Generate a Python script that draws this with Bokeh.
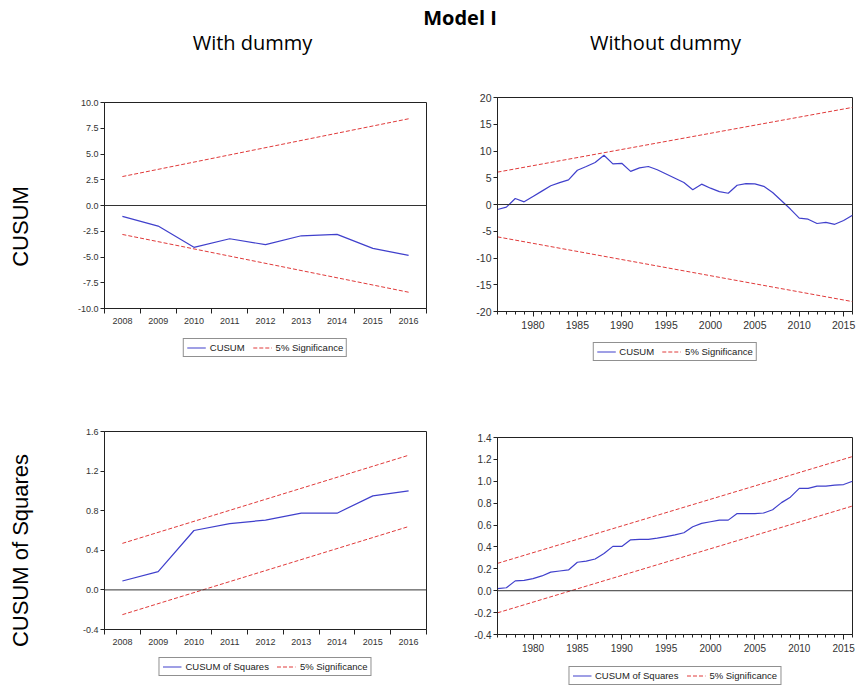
import math
from bokeh.plotting import figure
from bokeh.models import Range1d, FixedTicker, NumeralTickFormatter, Span, Legend, LegendItem
from bokeh.layouts import column, row
from bokeh.core.properties import value
from bokeh.embed import file_html
from bokeh.resources import INLINE

# ---------------- data ----------------
years_d = [2008, 2009, 2010, 2011, 2012, 2013, 2014, 2015, 2016]
cusum_d = [-1.05, -2.0, -4.06, -3.23, -3.8, -2.94, -2.8, -4.16, -4.84]
band_d_x = [2008, 2016]
cusum_d_upper = [2.81, 8.42]
cusum_d_lower = [-2.81, -8.42]
cusumsq_d = [0.09, 0.185, 0.60, 0.67, 0.705, 0.775, 0.775, 0.95, 1.0]
cusumsq_d_upper = [0.47, 1.36]
cusumsq_d_lower = [-0.25, 0.64]

years_n = list(range(1976, 2017))
cusum_n = [-0.93, -0.5, 1.12, 0.5, 1.5, 2.5, 3.5, 4.1, 4.6, 6.4,
           7.1, 7.85, 9.2, 7.6, 7.7, 6.2, 6.85, 7.1, 6.5, 5.7,
           4.9, 4.1, 2.75, 3.8, 3.05, 2.4, 2.1, 3.6, 3.9, 3.85,
           3.4, 2.25, 0.7, -0.85, -2.55, -2.75, -3.55, -3.35, -3.7, -3.0,
           -2.0]
band_n_x = [1976, 2016]
cusum_n_upper = [6.05, 18.15]
cusum_n_lower = [-6.05, -18.15]
cusumsq_n = [0.02, 0.027, 0.09, 0.095, 0.11, 0.135, 0.17, 0.18, 0.19, 0.26,
             0.27, 0.29, 0.34, 0.405, 0.405, 0.465, 0.47, 0.47, 0.48, 0.495,
             0.51, 0.53, 0.585, 0.615, 0.63, 0.645, 0.645, 0.705, 0.705, 0.705,
             0.71, 0.74, 0.805, 0.855, 0.935, 0.935, 0.955, 0.955, 0.965, 0.97,
             1.0]
cusumsq_n_upper = [0.25, 1.226]
cusumsq_n_lower = [-0.202, 0.774]

yt_cusum_d = [-10, -7.5, -5, -2.5, 0, 2.5, 5, 7.5, 10]
yt_cusum_n = [-20, -15, -10, -5, 0, 5, 10, 15, 20]
yt_sq_d = [-0.4, 0.0, 0.4, 0.8, 1.2, 1.6]
yt_sq_n = [-0.4, -0.2, 0.0, 0.2, 0.4, 0.6, 0.8, 1.0, 1.2, 1.4]
xt_n = [1980, 1985, 1990, 1995, 2000, 2005, 2010, 2015]

BLUE = "#4040cc"
RED = "#e03a3a"
AX_FONT = "Liberation Sans"


def panel(w, h, bl, br, bt, bb, xr, yr, yticks, yfmt, xticker, major_out, minor_out,
          fs, xs, ys, bx, up, lo):
    p = figure(width=w, height=h, x_range=Range1d(*xr), y_range=Range1d(*yr), title=None,
               output_backend="svg", toolbar_location=None,
               min_border_left=bl, min_border_right=br, min_border_top=bt, min_border_bottom=bb)
    p.grid.visible = False
    p.outline_line_color = "#222222"
    p.outline_line_width = 1
    ya = p.yaxis[0]
    ya.ticker = FixedTicker(ticks=yticks)
    ya.formatter = NumeralTickFormatter(format=yfmt)
    ya.major_tick_out = 4
    ya.major_tick_in = 0
    ya.minor_tick_out = 0
    ya.major_label_standoff = 2
    ya.axis_line_color = "#222222"
    ya.major_tick_line_color = "#222222"
    ya.major_label_text_font = AX_FONT
    ya.major_label_text_font_size = fs
    ya.major_label_text_color = "#333333"
    xa = p.xaxis[0]
    xa.ticker = xticker
    xa.major_tick_out = major_out
    xa.major_tick_in = 0
    xa.minor_tick_out = minor_out
    xa.minor_tick_in = 0
    xa.major_label_standoff = 4
    xa.axis_line_color = "#222222"
    xa.major_tick_line_color = "#222222"
    xa.minor_tick_line_color = "#222222"
    xa.major_label_text_font = AX_FONT
    xa.major_label_text_font_size = fs
    xa.major_label_text_color = "#333333"

    p.add_layout(Span(location=0, dimension="width", line_color="#333333", line_width=1))
    p.line(xs, ys, line_color=BLUE, line_width=1.2)
    p.line(bx, up, line_color=RED, line_width=1, line_dash="4 2")
    p.line(bx, lo, line_color=RED, line_width=1, line_dash="4 2")
    return p


def legend_fig(w, h, bl, br, label, top_margin):
    f = figure(width=w, height=h, x_range=Range1d(0, 1), y_range=Range1d(0, 1), title=None,
               output_backend="svg", toolbar_location=None, x_axis_type=None, y_axis_type=None,
               min_border_left=bl, min_border_right=br, min_border_top=0, min_border_bottom=0)
    f.grid.visible = False
    f.outline_line_color = None
    # sample renderers kept outside the visible range: only their legend glyphs show
    r1 = f.line([5, 6], [5, 6], line_color=BLUE, line_width=1.2)
    r2 = f.line([5, 6], [5, 6], line_color=RED, line_width=1, line_dash="4 2")
    leg = Legend(items=[LegendItem(label=label, renderers=[r1]),
                        LegendItem(label="5% Significance", renderers=[r2])],
                 orientation="horizontal", location="top_center",
                 label_text_font=AX_FONT, label_text_font_size="9.5px",
                 label_text_color="#222222",
                 glyph_width=19, glyph_height=9, label_height=9, label_standoff=4,
                 spacing=8, padding=3, margin=top_margin,
                 border_line_color="#222222", border_line_width=1,
                 background_fill_color="white", background_fill_alpha=1.0)
    f.add_layout(leg)
    return f


tick_d = FixedTicker(ticks=years_d, minor_ticks=[y - 0.5 for y in years_d] + [years_d[-1] + 0.5])
tick_d2 = FixedTicker(ticks=years_d, minor_ticks=[y - 0.5 for y in years_d] + [years_d[-1] + 0.5])
tick_n = FixedTicker(ticks=xt_n, minor_ticks=years_n)
tick_n2 = FixedTicker(ticks=xt_n, minor_ticks=years_n)

# left column starts at x=58, right column at x=458; rows start at y=60
# top-left: frame x 104..426, y 102..308
tl = panel(400, 270, 46, 32, 42, 22, (2007.5, 2016.5), (-10, 10), yt_cusum_d, "0.0",
           tick_d, 0, 5, "9px", years_d, cusum_d, band_d_x, cusum_d_upper, cusum_d_lower)
tl_leg = legend_fig(400, 68, 46, 32, "CUSUM", 8)
# bottom-left: frame x 99..426, y 431..629
bl_ = panel(400, 252, 41, 32, 33, 21, (2007.5, 2016.5), (-0.4, 1.6), yt_sq_d, "0.0",
            tick_d2, 0, 5, "9px", years_d, cusumsq_d, band_d_x, cusumsq_d_upper, cusumsq_d_lower)
bl_leg = legend_fig(400, 28, 41, 32, "CUSUM of Squares", 7)
# top-right: frame x 497..852, y 97..311
tr = panel(400, 274, 39, 6, 37, 23, (1976, 2016), (-20, 20), yt_cusum_n, "0",
           tick_n, 5, 3, "10.5px", years_n, cusum_n, band_n_x, cusum_n_upper, cusum_n_lower)
tr_leg = legend_fig(400, 64, 39, 6, "CUSUM", 8)
# bottom-right: frame x 497..852, y 437..634
br_ = panel(400, 259, 39, 6, 39, 23, (1976, 2016), (-0.4, 1.4), yt_sq_n, "0.0",
            tick_n2, 5, 3, "10px", years_n, cusumsq_n, band_n_x, cusumsq_n_upper, cusumsq_n_lower)
br_leg = legend_fig(400, 29, 39, 6, "CUSUM of Squares", 9)

# header (page coordinates)
hdr = figure(width=858, height=60, x_range=Range1d(0, 858), y_range=Range1d(60, 0), title=None,
             output_backend="svg", toolbar_location=None, x_axis_type=None, y_axis_type=None,
             min_border=0)
hdr.grid.visible = False
hdr.outline_line_color = None
hdr.text(x=[459.5], y=[17], text=["Model I"], text_font=value("Open Sans"),
         text_font_size="20px", text_font_style="bold", text_align="center",
         text_baseline="alphabetic", text_color="black")
hdr.text(x=[252, 665], y=[42, 42], text=["With dummy", "Without dummy"],
         text_font=value("Open Sans"), text_font_size="20px", text_align="center",
         text_baseline="alphabetic", text_color="black")

# row labels (x page coords, y from 60)
lab = figure(width=58, height=626, x_range=Range1d(0, 58), y_range=Range1d(626, 0), title=None,
             output_backend="svg", toolbar_location=None, x_axis_type=None, y_axis_type=None,
             min_border=0)
lab.grid.visible = False
lab.outline_line_color = None
lab.text(x=[20, 20], y=[166, 490], text=["CUSUM", "CUSUM of Squares"],
         text_font=value("Liberation Sans"), text_font_size="22px", angle=math.pi / 2,
         text_align="center", text_baseline="middle", text_color="black")

layout = column(hdr, row(lab, column(tl, tl_leg, bl_, bl_leg), column(tr, tr_leg, br_, br_leg)))

open("out.html", "w").write(file_html(layout, INLINE))
